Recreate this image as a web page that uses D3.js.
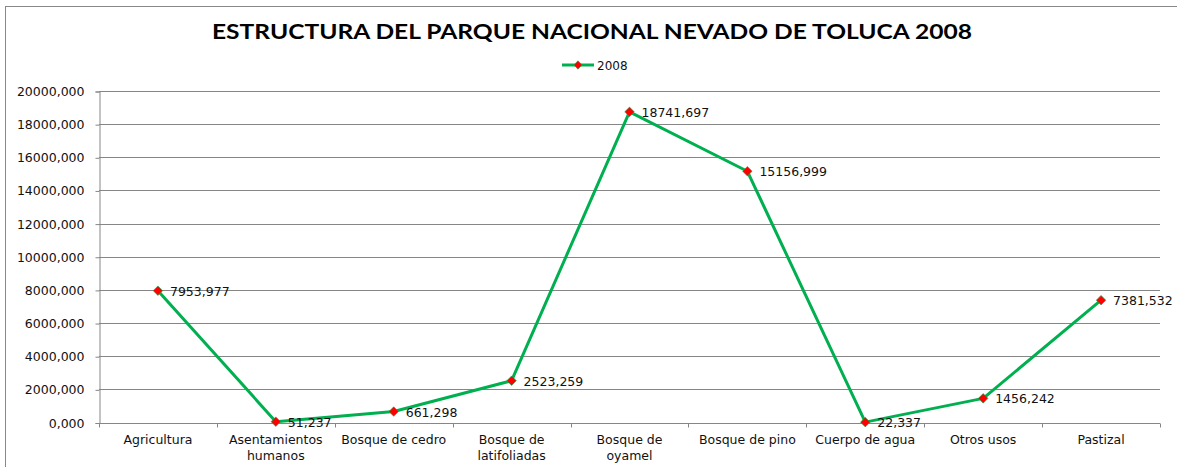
<!DOCTYPE html>
<html>
<head>
<meta charset="utf-8">
<script src="https://cdn.jsdelivr.net/npm/d3@7"></script>
<style>
  body { margin: 0; background: #fff; }
  text { font-family: "DejaVu Sans", Verdana, sans-serif; }
</style>
</head>
<body>
<svg id="chart" width="1177" height="467"></svg>
<script>
const categories = ["Agricultura", "Asentamientos humanos", "Bosque de cedro", "Bosque de latifoliadas",
  "Bosque de oyamel", "Bosque de pino", "Cuerpo de agua", "Otros usos", "Pastizal"];
const values2008 = [7953.977, 51.237, 661.298, 2523.259, 18741.697, 15156.999, 22.337, 1456.242, 7381.532];
const yTicks = [0, 2000, 4000, 6000, 8000, 10000, 12000, 14000, 16000, 18000, 20000];
const seriesName = "2008";
const title = "ESTRUCTURA DEL PARQUE NACIONAL NEVADO DE TOLUCA 2008";

// wrapped category labels as in the original
const labelLines = {
  "Asentamientos humanos": ["Asentamientos", "humanos"],
  "Bosque de latifoliadas": ["Bosque de", "latifoliadas"],
  "Bosque de oyamel": ["Bosque de", "oyamel"]
};

const margin = {top: 91, left: 99, right: 17, bottom: 44};
const width = 1177 - margin.left - margin.right,
    height = 467 - margin.top - margin.bottom - 0.5;

const lineColor = '#00b050';
const markColor = '#ff0000';
const gridColor = '#868686';
const fmt = v => d3.format(".3f")(v).replace(".", ",");

const svg = d3.select('#chart');

// outer chart frame
svg.append('rect')
    .attr('x', 5.5).attr('y', 6.5)
    .attr('width', 1200).attr('height', 500)
    .attr('fill', 'none')
    .attr('stroke', '#888');

svg.append('text')
    .attr('x', 592).attr('y', 39)
    .attr('text-anchor', 'middle')
    .attr('textLength', 760)
    .attr('lengthAdjust', 'spacingAndGlyphs')
    .style('font-family', 'Lato, "Open Sans", sans-serif')
    .style('font-weight', 'bold')
    .style('font-size', '21px')
    .text(title);

// legend
const lg = svg.append('g').attr('transform', 'translate(562,65)');
lg.append('line').attr('x1', 0).attr('x2', 32).attr('y1', 0).attr('y2', 0)
    .attr('stroke', lineColor).attr('stroke-width', 3);
lg.append('path').attr('d', d3.symbol(d3.symbolDiamond2, 44)())
    .attr('transform', 'translate(16,0)')
    .attr('fill', markColor).attr('stroke', lineColor).attr('stroke-width', 0.6);
lg.append('text').attr('x', 35).attr('y', 4.5)
    .style('font-size', '12px').attr('fill', '#111').text(seriesName);

const g = svg.append('g').attr('transform', `translate(${margin.left},${margin.top})`);

const x = d3.scaleBand().domain(categories).range([0, width]);
const y = d3.scaleLinear().domain([0, 20000]).range([height, 0]);

// gridlines
g.append('g').selectAll('line')
    .data(yTicks.filter(t => t > 0))
    .enter().append('line')
    .attr('x1', 0).attr('x2', width)
    .attr('y1', d => Math.round(y(d)) + 0.5)
    .attr('y2', d => Math.round(y(d)) + 0.5)
    .attr('stroke', gridColor).attr('stroke-width', 1);

// y axis
const yAxis = g.append('g')
    .attr('transform', 'translate(0.5,0.5)')
    .call(d3.axisLeft(y).tickValues(yTicks).tickFormat(fmt).tickSize(4).tickPadding(11));
yAxis.select('.domain').attr('stroke', gridColor);
yAxis.selectAll('.tick line').attr('stroke', gridColor);
yAxis.selectAll('.tick text').style('font-size', '12.5px').attr('fill', '#111').attr('font-family', null);

// x axis, ticks between categories
const xAxis = g.append('g').attr('transform', `translate(0,${Math.round(height) + 0.5})`);
xAxis.append('line').attr('x1', 0).attr('x2', width).attr('stroke', gridColor);
xAxis.selectAll('line.tk')
    .data(d3.range(categories.length + 1))
    .enter().append('line')
    .attr('class', 'tk')
    .attr('x1', i => Math.round(i * x.step()) + 0.5)
    .attr('x2', i => Math.round(i * x.step()) + 0.5)
    .attr('y1', 0).attr('y2', 4)
    .attr('stroke', gridColor);
xAxis.selectAll('text.cat')
    .data(categories)
    .enter().append('text')
    .attr('class', 'cat')
    .attr('text-anchor', 'middle')
    .attr('x', d => x(d) + x.bandwidth() / 2)
    .attr('y', 20)
    .style('font-size', '12.5px')
    .attr('fill', '#111')
    .each(function (d) {
      const lines = labelLines[d] || [d];
      d3.select(this).selectAll('tspan')
          .data(lines).enter().append('tspan')
          .attr('x', x(d) + x.bandwidth() / 2)
          .attr('dy', (l, i) => i === 0 ? 0 : 16)
          .text(l => l);
    });

const pts = categories.map((c, i) => ({c, v: values2008[i]}));

const line = d3.line()
    .x(d => x(d.c) + x.bandwidth() / 2)
    .y(d => y(d.v));

g.append('path')
    .datum(pts)
    .attr('d', line)
    .attr('fill', 'none')
    .attr('stroke', lineColor)
    .attr('stroke-width', 3)
    .attr('stroke-linejoin', 'round');

g.selectAll('path.mk')
    .data(pts)
    .enter().append('path')
    .attr('class', 'mk')
    .attr('d', d3.symbol(d3.symbolDiamond2, 58)())
    .attr('transform', d => `translate(${x(d.c) + x.bandwidth() / 2},${y(d.v)})`)
    .attr('fill', markColor)
    .attr('stroke', lineColor)
    .attr('stroke-width', 0.6);

g.selectAll('text.lbl')
    .data(pts)
    .enter().append('text')
    .attr('class', 'lbl')
    .attr('x', d => x(d.c) + x.bandwidth() / 2 + 12)
    .attr('y', d => y(d.v) + 5)
    .style('font-size', '12.5px')
    .attr('fill', '#111')
    .text(d => fmt(d.v));
</script>
</body>
</html>
